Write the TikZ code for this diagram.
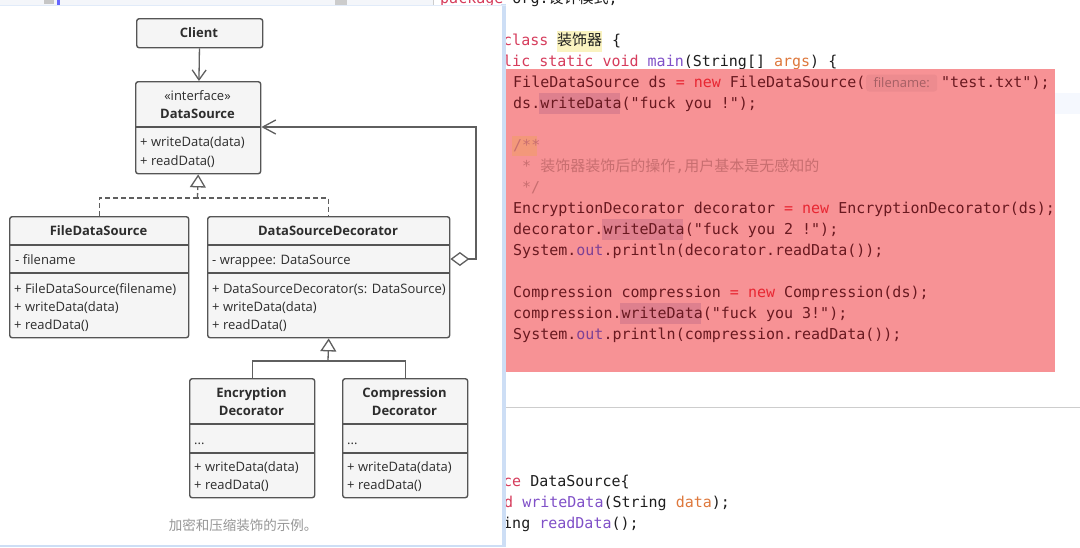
\documentclass[tikz,border=0pt]{standalone}
\usepackage{fontspec}
\setmainfont{Open Sans}
\newfontfamily\codefont{DejaVu Sans Mono}
\newfontfamily\cjk{Noto Sans CJK SC}
\usetikzlibrary{arrows.meta}
\definecolor{boxline}{RGB}{85,85,85}
\definecolor{boxfill}{RGB}{245,245,245}
\definecolor{umltext}{RGB}{45,45,45}
\definecolor{connc}{RGB}{95,95,95}
\definecolor{captext}{RGB}{150,150,150}
\definecolor{hl}{RGB}{247,146,149}
\definecolor{kw}{RGB}{214,60,92}
\definecolor{txt}{RGB}{30,30,30}
\definecolor{fn}{RGB}{128,80,200}
\definecolor{prm}{RGB}{222,120,60}
\definecolor{htxt}{RGB}{105,25,32}
\definecolor{hkw}{RGB}{232,38,50}
\definecolor{hcom}{RGB}{200,110,112}
\definecolor{hfld}{RGB}{125,65,150}
\definecolor{usage}{RGB}{222,128,142}
\definecolor{bracec}{RGB}{243,152,122}
\definecolor{inlay}{RGB}{237,139,143}
\definecolor{inlaytxt}{RGB}{165,95,100}
\definecolor{yel}{RGB}{250,243,192}
\definecolor{sepc}{RGB}{205,205,205}
\definecolor{shadowc}{RGB}{205,222,245}
\definecolor{stripc}{RGB}{244,246,250}
\definecolor{curline}{RGB}{245,248,254}
\newcommand\zkw[1]{{\color{kw}#1}}
\newcommand\ztx[1]{{\color{txt}#1}}
\newcommand\zfn[1]{{\color{fn}#1}}
\newcommand\zpr[1]{{\color{prm}#1}}
\newcommand\zht[1]{{\color{htxt}#1}}
\newcommand\zhk[1]{{\color{hkw}#1}}
\newcommand\zhf[1]{{\color{hfld}#1}}
\newcommand\zcj[1]{{\cjk\fontsize{15}{18}\selectfont #1}}
\tikzset{
  umlbox/.style={draw=boxline, fill=boxfill, line width=1.4pt, rounded corners=2.5pt, inner sep=0pt, anchor=north west},
  title/.style={font=\fontsize{13}{15}\selectfont\bfseries, text=umltext, inner sep=0pt, anchor=base},
  stereo/.style={font=\fontsize{13}{15}\selectfont, text=umltext, inner sep=0pt, anchor=base},
  member/.style={font=\fontsize{13}{15}\selectfont, text=umltext, inner sep=0pt, anchor=base west},
  divider/.style={draw=boxline, line width=1.4pt},
  link/.style={draw=connc, line width=1.3pt},
  code/.style={font=\codefont\fontsize{15}{18}\selectfont, inner sep=0pt, anchor=base west},
  gentip/.style={-{Triangle[fill=white, length=13pt, width=16pt]}},
}
\begin{document}
\begin{tikzpicture}[x=1pt,y=-1pt]
\useasboundingbox (0,0) rectangle (1080,547);
\clip (0,0) rectangle (1080,547);
\fill[white] (0,0) rectangle (1080,547);

% ---------- code editor (right) ----------
\fill[stripc] (0,0) rectangle (433,6);
\fill[gray!45] (44,0) rectangle (54,4);
\fill[blue!60] (57,0) rectangle (60,5);
\fill[gray!40] (335,0) rectangle (347,5);
\draw[sepc, line width=0.8pt] (433,0) -- (433,6);
\node[code] (c0) at (440,3.5) {\zkw{package} \ztx{org.\zcj{设计模式};}};

\fill[yel] (557,31) rectangle (602,52);
\node[code] (c1) at (503,45) {\zkw{class}};
\node[code] (c1b) at (557,45) {\ztx{\zcj{装饰器}}};
\node[code] (c1c) at (612,45) {\ztx{\{}};
\node[code] (c2) at (503,66) {\zkw{lic static void} \zfn{main}\ztx{(String[] }\zpr{args}\ztx{) \{}};

\fill[curline] (1055,93) rectangle (1080,114);
\fill[hl] (505,69) rectangle (1055,372);
\fill[usage] (539,93) rectangle (620,114);
\fill[usage] (602,219) rectangle (683,240);
\fill[usage] (620,303) rectangle (701,324);
\fill[bracec] (512,136) rectangle (537,156);
\node[code] (c3) at (513,87) {\zht{FileDataSource ds }\zhk{= new }\zht{FileDataSource(}};
\node[fill=inlay, rounded corners=3pt, inner xsep=3pt, inner ysep=2pt, minimum width=71pt, minimum height=17pt, font=\fontsize{13}{15}\selectfont, text=inlaytxt, anchor=west] (inl) at (866,83) {filename:};
\node[code] (c3b) at (941,87) {\zht{"test.txt");}};
\node[code] (c4) at (513,108) {\zht{ds.writeData("fuck you !");}};
\node[code] (c5) at (513,150) {{\color{hcom}/**}};
\node[code] (c6) at (522,171) {{\color{hcom}* \zcj{装饰器装饰后的操作},\zcj{用户基本是无感知的}}};
\node[code] (c7) at (522,192) {{\color{hcom}*/}};
\node[code] (c8) at (513,213) {\zht{EncryptionDecorator decorator }\zhk{= new }\zht{EncryptionDecorator(ds);}};
\node[code] (c9) at (513,234) {\zht{decorator.writeData("fuck you 2 !");}};
\node[code] (c10) at (513,255) {\zht{System.}\zhf{out}\zht{.println(decorator.readData());}};
\node[code] (c11) at (513,297) {\zht{Compression compression }\zhk{= new }\zht{Compression(ds);}};
\node[code] (c12) at (513,318) {\zht{compression.writeData("fuck you 3!");}};
\node[code] (c13) at (513,339) {\zht{System.}\zhf{out}\zht{.println(compression.readData());}};

\draw[sepc, line width=1pt] (505,407) -- (1080,407);
\node[code] (c14) at (503,486) {\zkw{ce} \ztx{DataSource\{}};
\node[code] (c15) at (504,507) {\zkw{d} \zfn{writeData}\ztx{(String }\zpr{data}\ztx{);}};
\node[code] (c16) at (503,528) {\ztx{ing }\zfn{readData}\ztx{();}};

% ---------- diagram panel (left) ----------
\fill[shadowc] (0,544) rectangle (506,547);
\fill[shadowc] (501,4) rectangle (506,547);
\fill[shadowc!60] (0,5) rectangle (506,6);
\fill[white] (0,6) rectangle (502,545);

% boxes
\node[umlbox, minimum width=126pt, minimum height=29pt] (client) at (136,18) {};
\node[umlbox, minimum width=125pt, minimum height=92pt] (ds) at (135,81) {};
\node[umlbox, minimum width=179pt, minimum height=121pt] (fds) at (9,216) {};
\node[umlbox, minimum width=242pt, minimum height=121pt] (dsd) at (207,216) {};
\node[umlbox, minimum width=125pt, minimum height=119pt] (enc) at (189,378) {};
\node[umlbox, minimum width=125pt, minimum height=119pt] (comp) at (342,378) {};

% divider levels
\coordinate (y127) at (0,127);
\coordinate (y245) at (0,245);
\coordinate (y273) at (0,273);
\coordinate (y424) at (0,424);
\coordinate (y453) at (0,453);
\draw[divider] (ds.west |- y127) -- (ds.east |- y127);
\draw[divider] (fds.west |- y245) -- (fds.east |- y245);
\draw[divider] (fds.west |- y273) -- (fds.east |- y273);
\draw[divider] (dsd.west |- y245) -- (dsd.east |- y245);
\draw[divider] (dsd.west |- y273) -- (dsd.east |- y273);
\draw[divider] (enc.west |- y424) -- (enc.east |- y424);
\draw[divider] (enc.west |- y453) -- (enc.east |- y453);
\draw[divider] (comp.west |- y424) -- (comp.east |- y424);
\draw[divider] (comp.west |- y453) -- (comp.east |- y453);

% texts
\node[title] (tclient) at (199,37.5) {Client};
\node[stereo] (tstereo) at (197.5,100.5) {«interface»};
\node[title] (tds) at (197.5,118.5) {DataSource};
\node[member] (m1) at (140,146.5) {+ writeData(data)};
\node[member] (m2) at (140,165.5) {+ readData()};

\node[title] (tfds) at (98.5,235.5) {FileDataSource};
\node[member] (f1) at (15,264.5) {- filename};
\node[member] (f2) at (14,293) {+ FileDataSource(filename)};
\node[member] (f3) at (14,311.5) {+ writeData(data)};
\node[member] (f4) at (14,329.5) {+ readData()};

\node[title] (tdsd) at (328,235.5) {DataSourceDecorator};
\node[member] (d1) at (212,264.5) {- wrappee: DataSource};
\node[member] (d2) at (212,293) {+ DataSourceDecorator(s: DataSource)};
\node[member] (d3) at (212,311.5) {+ writeData(data)};
\node[member] (d4) at (212,329.5) {+ readData()};

\node[title] (tenc1) at (251.5,397.5) {Encryption};
\node[title] (tenc2) at (251.5,415.5) {Decorator};
\node[member] (e1) at (194,444) {...};
\node[member] (e2) at (194,471.5) {+ writeData(data)};
\node[member] (e3) at (194,489.5) {+ readData()};

\node[title] (tcomp1) at (404.5,397.5) {Compression};
\node[title] (tcomp2) at (404.5,415.5) {Decorator};
\node[member] (p1) at (347,444) {...};
\node[member] (p2) at (347,471.5) {+ writeData(data)};
\node[member] (p3) at (347,489.5) {+ readData()};

\node[font=\cjk\fontsize{13.5}{15}\selectfont, text=captext, inner sep=0pt] (caption) at (243,525) {加密和压缩装饰的示例。};

% connectors
\draw[link, -{Straight Barb[length=10pt, width=14pt]}] (client) -- (ds);

\coordinate (j1) at (197.5,198);
\draw[link, dash pattern=on 5pt off 3pt] (fds.north) |- (j1) -| (dsd.north);
\draw[link, dash pattern=on 5pt off 3pt, gentip] (j1) -- (ds.south);

\coordinate (j2) at (328,361);
\draw[link] (enc.north) |- (j2) -| (comp.north);
\draw[link, gentip] (j2) -- (dsd.south);

\coordinate (aggy) at (0,259);
\coordinate (turn) at (476,127);
\draw[link, {Diamond[fill=white, length=19pt, width=14pt]}-{Straight Barb[length=13pt, width=14pt]}] (dsd.east |- aggy) -| (turn) -- (ds.east |- y127);
\end{tikzpicture}
\end{document}
